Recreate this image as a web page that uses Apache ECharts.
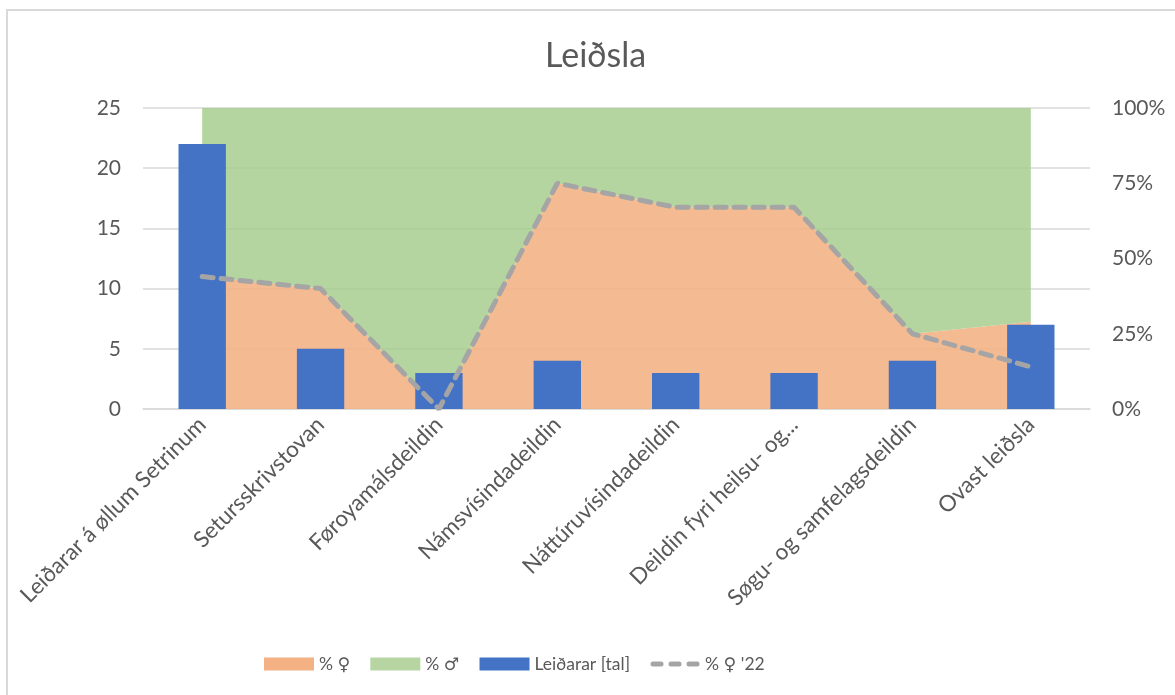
<!DOCTYPE html>
<html>
<head>
<meta charset="utf-8">
<title>Leiðsla</title>
<script src="https://cdn.jsdelivr.net/npm/echarts@6/dist/echarts.min.js"></script>
<style>
    html, body { margin: 0; padding: 0; background: #fff; }
    #chart { width: 1175px; height: 695px; }
</style>
</head>
<body>
<div id="chart"></div>
<script>
const categories = [
    'Leiðarar á øllum Setrinum',
    'Setursskrivstovan',
    'Føroyamálsdeildin',
    'Námsvísindadeildin',
    'Náttúruvísindadeildin',
    'Deildin fyri heilsu- og...',
    'Søgu- og samfelagsdeildin',
    'Ovast leiðsla'
];
const femalePct = [44, 40, 0, 75, 67, 67, 25, 29];
const malePct = [56, 60, 100, 25, 33, 33, 75, 71];
const leaders = [22, 5, 3, 4, 3, 3, 4, 7];
const femalePct22 = [44, 40, 0, 75, 67, 67, 25, 14];

const TEXT_COLOR = '#595959';
const FONT = 'Lato, "Open Sans", "DejaVu Sans", sans-serif';

// three rounded dashes for the legend, with tiny corner specks to keep the box 50x13
const DASH_ICON = 'path://M0,0h0.01v0.01h-0.01Z M49.99,12.99h0.01v0.01h-0.01Z ' +
    'M3,4h8a2.5,2.5 0 0 1 0,5h-8a2.5,2.5 0 0 1 0,-5Z ' +
    'M21,4h8a2.5,2.5 0 0 1 0,5h-8a2.5,2.5 0 0 1 0,-5Z ' +
    'M39,4h8a2.5,2.5 0 0 1 0,5h-8a2.5,2.5 0 0 1 0,-5Z';

const chart = echarts.init(document.getElementById('chart'));

const option = {
    animation: false,
    textStyle: { fontFamily: FONT },
    title: {
        text: 'Leiðsla',
        left: 540,
        top: 34,
        textStyle: {
            color: TEXT_COLOR,
            fontSize: 34,
            fontWeight: 'normal',
            fontFamily: FONT
        }
    },
    graphic: [
        {
            type: 'rect',
            silent: true,
            shape: { x: 7, y: 10, width: 1200, height: 700 },
            style: { fill: 'none', stroke: '#d9d9d9', lineWidth: 2 }
        }
    ],
    grid: {
        left: 143,
        right: 85,
        top: 108,
        bottom: 286
    },
    legend: {
        bottom: 17,
        left: 259,
        itemWidth: 50,
        itemHeight: 13,
        itemGap: 20,
        textStyle: { color: TEXT_COLOR, fontSize: 17.5, fontFamily: FONT },
        data: [
            { name: '% ♀', icon: 'rect' },
            { name: '% ♂', icon: 'rect' },
            { name: 'Leiðarar [tal]', icon: 'rect' },
            { name: "% ♀ '22", icon: DASH_ICON }
        ]
    },
    xAxis: {
        type: 'category',
        data: categories,
        axisTick: { show: false },
        axisLine: { lineStyle: { color: '#d9d9d9', width: 1.5 } },
        axisLabel: {
            rotate: 45,
            interval: 0,
            color: TEXT_COLOR,
            fontSize: 22.5,
            margin: 12
        }
    },
    yAxis: [
        {
            type: 'value',
            min: 0,
            max: 25,
            interval: 5,
            axisLine: { show: false },
            axisTick: { show: false },
            axisLabel: { color: TEXT_COLOR, fontSize: 21, margin: 22 },
            splitLine: { lineStyle: { color: '#d9d9d9', width: 1.5 } }
        },
        {
            type: 'value',
            min: 0,
            max: 100,
            interval: 25,
            axisLine: { show: false },
            axisTick: { show: false },
            axisLabel: {
                color: TEXT_COLOR,
                fontSize: 21,
                margin: 22,
                formatter: '{value}%'
            },
            splitLine: { show: false }
        }
    ],
    series: [
        {
            name: '% ♀',
            type: 'line',
            yAxisIndex: 1,
            stack: 'pct',
            data: femalePct,
            symbol: 'none',
            lineStyle: { width: 0 },
            itemStyle: { color: '#f4b183' },
            areaStyle: { color: '#f2b182', opacity: 0.88 },
            z: 1
        },
        {
            name: '% ♂',
            type: 'line',
            yAxisIndex: 1,
            stack: 'pct',
            data: malePct,
            symbol: 'none',
            lineStyle: { width: 0 },
            itemStyle: { color: '#b7d5a3' },
            areaStyle: { color: '#a8ce8f', opacity: 0.85 },
            z: 1
        },
        {
            name: 'Leiðarar [tal]',
            type: 'bar',
            yAxisIndex: 0,
            data: leaders,
            barWidth: '40%',
            itemStyle: { color: '#4472c4' },
            z: 3
        },
        {
            name: "% ♀ '22",
            type: 'line',
            yAxisIndex: 1,
            data: femalePct22,
            symbol: 'none',
            itemStyle: { color: '#a5a5a5' },
            lineStyle: {
                color: '#a5a5a5',
                width: 5,
                type: [11, 8],
                cap: 'round'
            },
            z: 4
        }
    ]
};

chart.setOption(option);
</script>
</body>
</html>
